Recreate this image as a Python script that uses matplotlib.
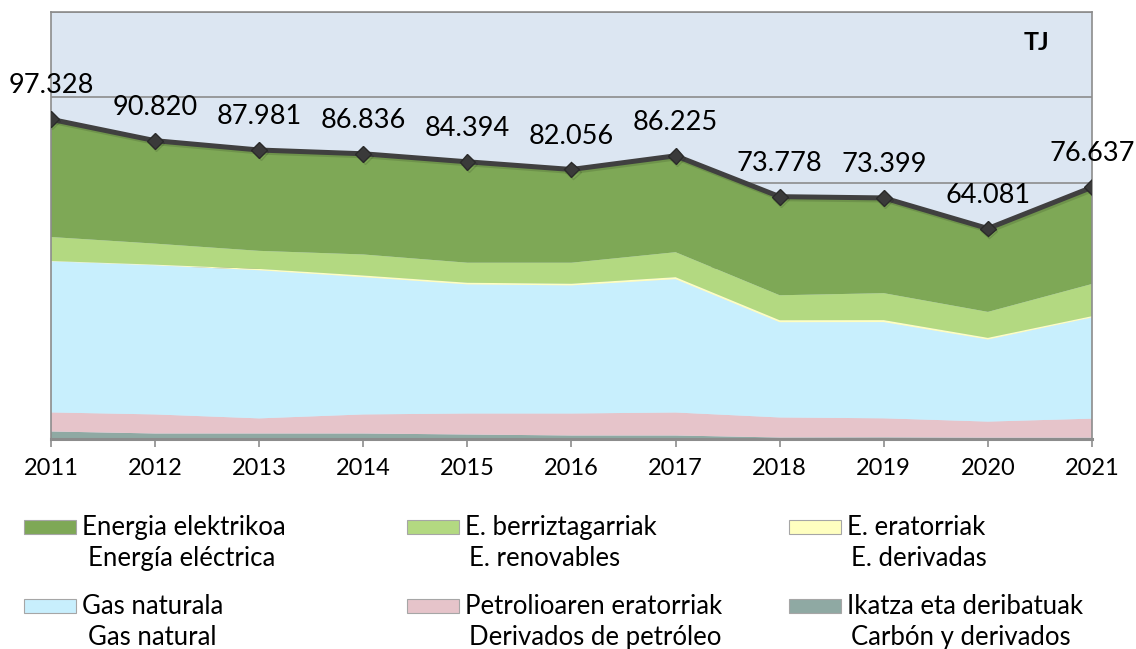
import matplotlib
matplotlib.use("Agg")
import matplotlib.pyplot as plt
import matplotlib.patheffects as pe
from matplotlib.patches import Rectangle

plt.rcParams['font.family'] = ['Lato', 'DejaVu Sans']

years = [2011, 2012, 2013, 2014, 2015, 2016, 2017, 2018, 2019, 2020, 2021]
totals = [97328, 90820, 87981, 86836, 84394, 82056, 86225, 73778, 73399, 64081, 76637]

coal = [2290, 1680, 1680, 1680, 1370, 1070, 1070, 460, 500, 400, 400]
petroleum = [5800, 5800, 4600, 5800, 6400, 6700, 7000, 6100, 5800, 4900, 5800]
natural_gas = [46000, 45400, 45100, 41800, 39300, 39000, 40600, 29000, 29300, 25000, 30800]
derived = [100, 200, 400, 500, 500, 500, 600, 600, 600, 500, 400]
renewables = [7300, 6400, 5500, 6400, 6100, 6400, 7600, 7600, 8200, 7900, 9800]
electricity = [35838, 31340, 30701, 30656, 30724, 28386, 29355, 30018, 28999, 25381, 29437]

series_labels = [
    ("Ikatza eta deribatuak", "Carbón y derivados"),
    ("Petrolioaren eratorriak", "Derivados de petróleo"),
    ("Gas naturala", "Gas natural"),
    ("E. eratorriak", "E. derivadas"),
    ("E. berriztagarriak", "E. renovables"),
    ("Energia elektrikoa", "Energía eléctrica"),
]
colors = ["#8FA9A3", "#E6C4CA", "#C8EFFD", "#FFFFC0", "#B3D981", "#7EA856"]
unit_label = "TJ"

W, H = 1136, 649
fig = plt.figure(figsize=(W / 100, H / 100), dpi=100)
ax = fig.add_axes([51 / W, 1 - 439 / H, (1092 - 51) / W, (439 - 12) / H])
ax.set_facecolor("#DCE6F2")

ax.stackplot(years, coal, petroleum, natural_gas, derived, renewables, electricity,
             colors=colors, linewidth=0, zorder=2)

ax.plot(years, totals, color="#404040", lw=3.6, marker="D", markersize=8,
        markerfacecolor="#3A3A3A", markeredgecolor="#2A2A2A", zorder=5,
        path_effects=[pe.SimpleLineShadow(offset=(1, -1.5), alpha=0.12), pe.Normal()])

for x, v in zip(years, totals):
    ax.annotate(f"{v:,}".replace(",", "."), (x, v), xytext=(0, 24),
                textcoords="offset points", ha="center", va="center",
                fontsize=19.5, color="black", zorder=6, annotation_clip=False)

ax.set_xlim(years[0], years[-1])
ax.set_ylim(0, 130000)
ax.set_yticks(range(0, 130001, 26000))
ax.yaxis.grid(True, color="#8C8C8C", lw=1.2, zorder=1)
ax.set_axisbelow(True)
ax.tick_params(axis="y", left=False, labelleft=False)
ax.set_xticks(years)
ax.set_xticklabels([str(y) for y in years])
ax.tick_params(axis="x", direction="out", length=5.5, width=1.2, color="#8C8C8C",
               pad=8, labelsize=17)
for s in ["top", "left", "right"]:
    ax.spines[s].set_color("#8C8C8C")
    ax.spines[s].set_linewidth(1.2)
ax.spines["bottom"].set_color("#8C8C8C")
ax.spines["bottom"].set_linewidth(2.2)
ax.spines["bottom"].set_zorder(4)

fig.text(1036 / W, 1 - 43 / H, unit_label, fontsize=18, fontweight="bold",
         ha="center", va="center")

# legend (manual, 3 columns x 2 rows)
order = [5, 4, 3, 2, 1, 0]
col_x = [24, 407, 789]
col_indent = [6, 4, 4]
row_base = [535, 614]
for i, idx in enumerate(order):
    r, c = divmod(i, 3)
    px = col_x[c]
    by = row_base[r]
    fig.add_artist(Rectangle((px / W, 1 - (by - 1) / H), 52 / W, 14 / H,
                             transform=fig.transFigure, facecolor=colors[idx],
                             edgecolor="#A6A6A6", lw=0.8))
    eu, es = series_labels[idx]
    fig.text((px + 58) / W, 1 - by / H, eu, fontsize=18.5, va="baseline", ha="left")
    fig.text((px + 58 + col_indent[c]) / W, 1 - (by + 31) / H, es, fontsize=18.5,
             va="baseline", ha="left")

fig.savefig("out.png", dpi=100)
